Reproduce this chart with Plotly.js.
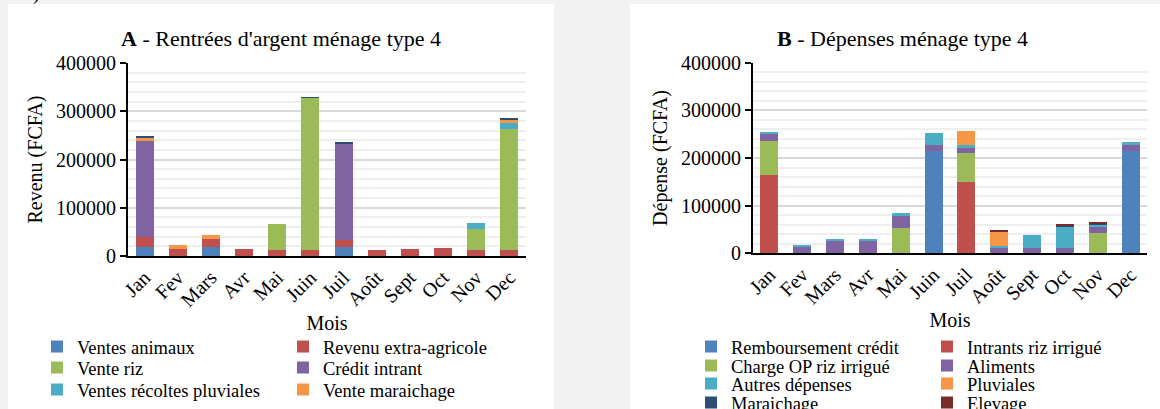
<!DOCTYPE html>
<html>
<head>
<meta charset="utf-8">
<script src="https://cdn.plot.ly/plotly-3.0.1.min.js"></script>
<style>html,body{margin:0;padding:0;background:#f2f2f2;}#chart{width:1160px;height:409px;}</style>
</head>
<body>
<div id="chart"></div>
<script>
// ---- Data ----
const months = ['Jan','Fev','Mars','Avr','Mai','Juin','Juil','Août','Sept','Oct','Nov','Dec'];

// A - Rentrées d'argent ménage type 4 (FCFA)
const ventesAnimaux          = [18000, 0, 18000, 0, 0, 0, 18000, 0, 0, 0, 0, 0];
const revenuExtraAgricole    = [20700, 14500, 17000, 14500, 12400, 12400, 14500, 12400, 14500, 16600, 12400, 12400];
const venteRiz               = [0, 0, 0, 0, 53200, 315700, 0, 0, 0, 0, 42900, 250800];
const creditIntrant          = [200000, 0, 0, 0, 0, 0, 200300, 0, 0, 0, 0, 0];
const ventesRecoltesPluviales= [0, 0, 0, 0, 0, 0, 0, 0, 0, 0, 12400, 12400];
const venteMaraichage        = [7500, 7500, 7600, 0, 0, 0, 0, 0, 0, 0, 0, 7500];
const autresRentrees         = [2000, 0, 0, 0, 0, 1000, 4000, 0, 0, 0, 0, 3500];

// B - Dépenses ménage type 4 (FCFA)
const remboursementCredit = [0, 0, 0, 0, 0, 215400, 0, 0, 0, 0, 0, 215400];
const intrantsRizIrrigue  = [164300, 0, 0, 0, 0, 0, 149000, 0, 0, 0, 0, 0];
const chargeOPRizIrrigue  = [72000, 0, 0, 0, 52400, 0, 60800, 0, 0, 0, 42000, 0];
const aliments            = [14700, 12600, 26000, 26000, 26600, 11900, 13300, 12000, 12000, 12000, 13800, 11900];
const autresDepenses      = [3500, 4900, 4900, 4900, 4900, 25800, 3500, 4200, 26600, 44000, 4200, 6300];
const pluviales           = [0, 0, 0, 0, 0, 0, 30000, 29300, 0, 0, 0, 0];
const maraichage          = [0, 0, 0, 0, 0, 0, 0, 0, 0, 3500, 4200, 0];
const elevage             = [0, 0, 0, 0, 0, 0, 0, 2100, 0, 2000, 1500, 0];

// ---- Styling ----
const C = {blue:'#4F81BD', red:'#C0504D', green:'#9BBB59', purple:'#8064A2', aqua:'#4BACC6', orange:'#F79646', navy:'#2C4D75', maroon:'#772C2A'};
const W = 1160, H = 409;
const fx = x => x / W;
const fy = y => 1 - y / H;
const FONT = '"Liberation Serif", "Times New Roman", Times, serif';

function bar(name, y, color, xa, ya, legend, show) {
  return {type:'bar', name:name, x:months, y:y, xaxis:xa, yaxis:ya,
    marker:{color:color, line:{width:0}}, legend:legend, showlegend:show !== false,
    hovertemplate:'%{x}: %{y}<extra>'+name+'</extra>'};
}

const traces = [
  bar('Ventes animaux', ventesAnimaux, C.blue, 'x', 'y', 'legend'),
  bar('Revenu extra-agricole', revenuExtraAgricole, C.red, 'x', 'y', 'legend'),
  bar('Vente riz', venteRiz, C.green, 'x', 'y', 'legend2'),
  bar('Crédit intrant', creditIntrant, C.purple, 'x', 'y', 'legend2'),
  bar('Ventes récoltes pluviales', ventesRecoltesPluviales, C.aqua, 'x', 'y', 'legend3'),
  bar('Vente maraichage', venteMaraichage, C.orange, 'x', 'y', 'legend3'),
  bar('Autres', autresRentrees, C.navy, 'x', 'y', 'legend3', false),

  bar('Remboursement crédit', remboursementCredit, C.blue, 'x2', 'y2', 'legend4'),
  bar('Intrants riz irrigué', intrantsRizIrrigue, C.red, 'x2', 'y2', 'legend4'),
  bar('Charge OP riz irrigué', chargeOPRizIrrigue, C.green, 'x2', 'y2', 'legend5'),
  bar('Aliments', aliments, C.purple, 'x2', 'y2', 'legend5'),
  bar('Autres dépenses', autresDepenses, C.aqua, 'x2', 'y2', 'legend6'),
  bar('Pluviales', pluviales, C.orange, 'x2', 'y2', 'legend6'),
  bar('Maraichage', maraichage, C.navy, 'x2', 'y2', 'legend7'),
  bar('Elevage', elevage, C.maroon, 'x2', 'y2', 'legend7')
];

function yAxis(domain, anchor, title) {
  return {domain:domain, anchor:anchor, range:[0,400000], dtick:100000, tickformat:'d',
    showline:true, linecolor:'#000', linewidth:2, ticks:'outside', ticklen:6, tickwidth:2, tickcolor:'#000',
    showgrid:true, gridcolor:'#d9d9d9', gridwidth:2, zeroline:false,
    minor:{dtick:20000, showgrid:true, gridcolor:'#efefef', gridwidth:2, ticks:''},
    tickfont:{size:20, family:FONT, color:'#000'},
    title:{text:title, font:{size:20, family:FONT, color:'#000'}, standoff:8},
    fixedrange:true};
}
function xAxis(domain, anchor) {
  return {domain:domain, anchor:anchor, type:'category', showline:true, linecolor:'#000', linewidth:2,
    ticks:'', tickangle:-45, tickfont:{size:20, family:FONT, color:'#000'},
    title:{text:'Mois', font:{size:20, family:FONT, color:'#000'}, standoff:6},
    showgrid:false, zeroline:false, fixedrange:true};
}
function leg(xText, yc, ew) {
  return {orientation:'h', x:fx(xText - 40), xanchor:'left', y:fy(yc), yanchor:'middle',
    entrywidth:ew, entrywidthmode:'pixels', traceorder:'normal', itemwidth:30,
    bgcolor:'rgba(0,0,0,0)', borderwidth:0, font:{size:18.5, family:FONT, color:'#000'}};
}

const layout = {
  width:W, height:H,
  margin:{l:0, r:0, t:0, b:0, autoexpand:false},
  paper_bgcolor:'#f2f2f2', plot_bgcolor:'#ffffff',
  barmode:'stack', bargap:0.455,
  font:{family:FONT, size:20, color:'#000'},
  xaxis: xAxis([fx(128), fx(526)], 'y'),
  yaxis: yAxis([fy(256), fy(63)], 'x', 'Revenu (FCFA)'),
  xaxis2: xAxis([fx(753), fx(1147)], 'y2'),
  yaxis2: yAxis([fy(253.3), fy(62.7)], 'x2', 'Dépense (FCFA)'),
  legend:  leg(77, 347, 201),
  legend2: leg(77, 368, 201),
  legend3: leg(77, 390, 201),
  legend4: leg(731, 347, 191),
  legend5: leg(731, 366, 191),
  legend6: leg(731, 384, 191),
  legend7: leg(731, 403, 191),
  shapes:[
    {type:'rect', xref:'paper', yref:'paper', x0:fx(8), x1:fx(554), y0:-0.05, y1:fy(4), fillcolor:'#ffffff', line:{width:0}, layer:'below'},
    {type:'rect', xref:'paper', yref:'paper', x0:fx(630), x1:1.05, y0:-0.05, y1:fy(4), fillcolor:'#ffffff', line:{width:0}, layer:'below'}
  ],
  annotations:[
    {text:"<b>A</b> - Rentrées d'argent ménage type 4", xref:'paper', yref:'paper', x:fx(281), y:fy(39), xanchor:'center', yanchor:'middle', showarrow:false, font:{size:22, family:FONT, color:'#000'}},
    {text:'<b>B</b> - Dépenses ménage type 4', xref:'paper', yref:'paper', x:fx(902), y:fy(39), xanchor:'center', yanchor:'middle', showarrow:false, font:{size:22, family:FONT, color:'#000'}},
    {text:')', xref:'paper', yref:'paper', x:fx(36), y:fy(-6), xanchor:'center', yanchor:'middle', showarrow:false, font:{size:19, family:FONT, color:'#000'}}
  ]
};

Plotly.newPlot('chart', traces, layout, {displayModeBar:false, responsive:false});
</script>
</body>
</html>
